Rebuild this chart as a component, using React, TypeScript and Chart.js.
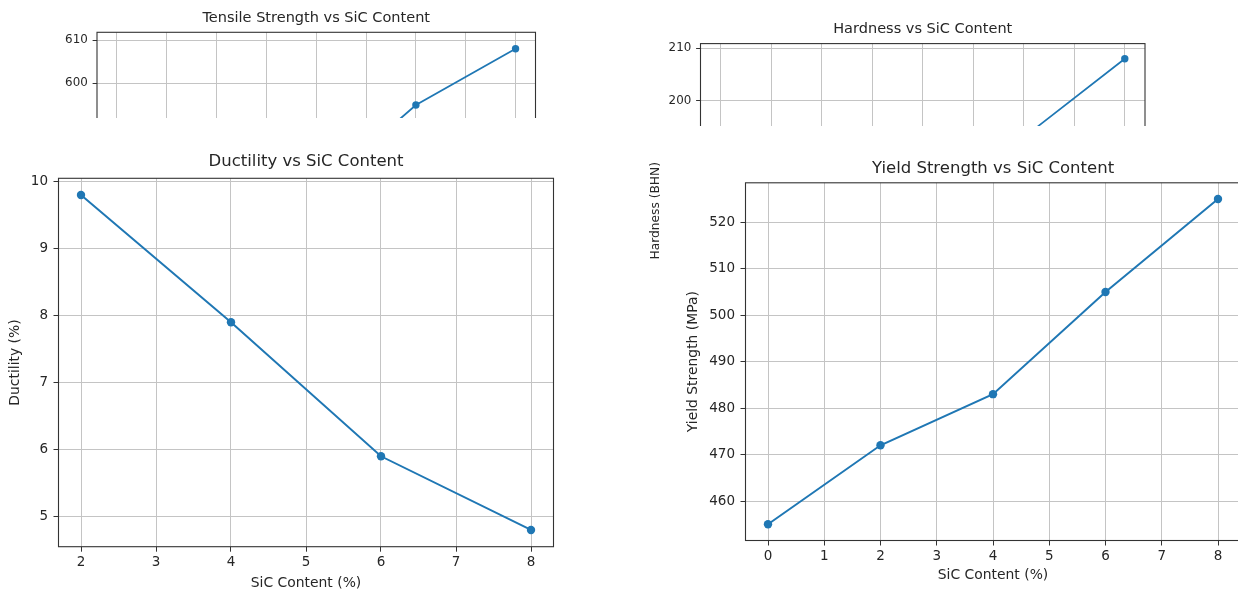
import React, { useEffect, useRef } from "react";
import { Chart, registerables } from "chart.js";

Chart.register(...registerables);

// ---------------- data ----------------
const sicContent = [0, 2, 4, 6, 8];
const tensileStrength = [532, 555, 575, 595, 608];
const hardnessBHN = [150, 165, 180, 193, 208];
const ductilitySic = [2, 4, 6, 8];
const ductilityPct = [9.8, 7.9, 5.9, 4.8];
const yieldStrength = [455, 472, 483, 505, 525];

const xTicksFull = [0, 1, 2, 3, 4, 5, 6, 7, 8];
const xTicksDuctility = [2, 3, 4, 5, 6, 7, 8];
const tensileTicks = [530, 540, 550, 560, 570, 580, 590, 600, 610];
const hardnessTicks = [150, 160, 170, 180, 190, 200, 210];
const ductilityTicks = [5, 6, 7, 8, 9, 10];
const yieldTicks = [460, 470, 480, 490, 500, 510, 520];

// ---------------- style ----------------
const FONT = "'DejaVu Sans', 'Liberation Sans', sans-serif";
const TITLE_SIZE = 16.5;
const LABEL_SIZE = 13.9;
const TICK_SIZE = 13.5;
const TEXT = "#262626";
const C0 = "#1f77b4";
const GRID = "#c4c4c4";
const SPINE = "#333333";

type PanelSpec = {
  left: number;
  top: number;
  height: number;
  k: number; // size factor of the source figure
  plot: { l: number; r: number; t: number; b: number };
  titleY: number;
  xLabelY: number;
  yLabelX: number;
  title: string;
  xLabel: string;
  yLabel: string;
  xs: number[];
  ys: number[];
  xTicks: number[];
  yTicks: number[];
  white: boolean;
};

function padRange(v: number[]): [number, number] {
  const mn = Math.min(...v);
  const mx = Math.max(...v);
  const m = (mx - mn) * 0.05;
  return [mn - m, mx + m];
}

const framePlugin = {
  id: "frame",
  afterDatasetsDraw(chart: any) {
    const { ctx, chartArea } = chart;
    ctx.save();
    ctx.strokeStyle = SPINE;
    ctx.lineWidth = 1.1;
    ctx.strokeRect(
      chartArea.left,
      chartArea.top,
      chartArea.right - chartArea.left,
      chartArea.bottom - chartArea.top
    );
    ctx.restore();
  },
};

const axesTitlePlugin = {
  id: "axesTitle",
  afterDraw(chart: any, _args: any, opts: any) {
    const { ctx, chartArea } = chart;
    ctx.save();
    ctx.fillStyle = TEXT;
    ctx.font = `normal ${opts.size}px ${FONT}`;
    ctx.textAlign = "center";
    ctx.textBaseline = "middle";
    ctx.fillText(opts.text, (chartArea.left + chartArea.right) / 2, opts.y);
    ctx.restore();
  },
};

function buildConfig(p: PanelSpec, W: number) {
  const k = p.k;
  const labelSize = LABEL_SIZE * k;
  const tickSize = TICK_SIZE * k;
  const lhA = labelSize * 1.2;
  const xr = padRange(p.xs);
  const yr = padRange(p.ys);
  const xScaleH = p.xLabelY + lhA / 2 - p.plot.b;
  const gridOpts = {
    color: GRID,
    lineWidth: 1,
    drawTicks: true,
    tickLength: 5 * k,
    tickColor: SPINE,
    tickWidth: 1,
  };
  return {
    type: "line",
    data: {
      datasets: [
        {
          data: p.xs.map((x, i) => ({ x, y: p.ys[i] })),
          borderColor: C0,
          backgroundColor: C0,
          borderWidth: 2 * k,
          pointRadius: 4.2 * k,
          pointHoverRadius: 4.2 * k,
          pointBackgroundColor: C0,
          pointBorderWidth: 0,
          tension: 0,
          fill: false,
          clip: false,
        },
      ],
    },
    options: {
      responsive: false,
      animation: false,
      events: [],
      layout: {
        padding: {
          left: 0,
          top: p.plot.t,
          right: W - p.plot.r,
          bottom: p.height - p.plot.b - xScaleH,
        },
      },
      plugins: {
        legend: { display: false },
        tooltip: { enabled: false },
        title: { display: false },
        axesTitle: { text: p.title, y: p.titleY, size: TITLE_SIZE * k },
      },
      scales: {
        x: {
          type: "linear",
          min: xr[0],
          max: xr[1],
          bounds: "data",
          afterFit: (s: any) => {
            s.height = xScaleH;
          },
          afterBuildTicks: (s: any) => {
            s.ticks = p.xTicks.map((v) => ({ value: v }));
          },
          grid: gridOpts,
          border: { display: false },
          ticks: {
            color: TEXT,
            padding: 3 * k,
            maxRotation: 0,
            autoSkip: false,
            font: { family: FONT, size: tickSize },
          },
          title: {
            display: true,
            text: p.xLabel,
            color: TEXT,
            padding: 0,
            font: { family: FONT, size: labelSize, lineHeight: 1.2 },
          },
        },
        y: {
          type: "linear",
          min: yr[0],
          max: yr[1],
          bounds: "data",
          afterFit: (s: any) => {
            s.width = p.plot.l;
          },
          afterBuildTicks: (s: any) => {
            s.ticks = p.yTicks.map((v) => ({ value: v }));
          },
          grid: gridOpts,
          border: { display: false },
          ticks: {
            color: TEXT,
            padding: 5.5 * k,
            autoSkip: false,
            font: { family: FONT, size: tickSize },
          },
          title: {
            display: true,
            text: p.yLabel,
            color: TEXT,
            padding: { top: p.yLabelX - lhA / 2, bottom: 0 },
            font: { family: FONT, size: labelSize, lineHeight: 1.2 },
          },
        },
      },
    },
    plugins: [framePlugin, axesTitlePlugin],
  };
}

function Panel({ spec }: { spec: PanelSpec }) {
  const ref = useRef<HTMLCanvasElement | null>(null);
  const W = Math.round(spec.plot.l + spec.plot.r);
  useEffect(() => {
    if (!ref.current) return;
    const chart = new Chart(ref.current, buildConfig(spec, W) as any);
    return () => chart.destroy();
  }, []);
  return (
    <div
      style={{
        position: "absolute",
        left: spec.left,
        top: spec.top,
        width: W,
        height: spec.height,
        background: spec.white ? "#ffffff" : "transparent",
      }}
    >
      <canvas
        ref={ref}
        width={W}
        height={spec.height}
        style={{ width: W, height: spec.height, display: "block" }}
      />
    </div>
  );
}

const tensileSpec: PanelSpec = {
  left: 0,
  top: 0,
  height: 440,
  k: 0.88,
  plot: { l: 97, r: 535.5, t: 32.3, b: 394 },
  titleY: 18.3,
  xLabelY: 426,
  yLabelX: 15,
  title: "Tensile Strength vs SiC Content",
  xLabel: "SiC Content (%)",
  yLabel: "Tensile Strength (MPa)",
  xs: sicContent,
  ys: tensileStrength,
  xTicks: xTicksFull,
  yTicks: tensileTicks,
  white: false,
};

const hardnessSpec: PanelSpec = {
  left: 620,
  top: 0,
  height: 430,
  k: 0.88,
  plot: { l: 80.5, r: 525, t: 43.6, b: 377.9 },
  titleY: 29.3,
  xLabelY: 410,
  yLabelX: 35.5,
  title: "Hardness vs SiC Content",
  xLabel: "SiC Content (%)",
  yLabel: "Hardness (BHN)",
  xs: sicContent,
  ys: hardnessBHN,
  xTicks: xTicksFull,
  yTicks: hardnessTicks,
  white: false,
};

const ductilitySpec: PanelSpec = {
  left: 0,
  top: 118,
  height: 478,
  k: 1,
  plot: { l: 58.5, r: 553.5, t: 60.3, b: 428.7 },
  titleY: 44,
  xLabelY: 465.3,
  yLabelX: 15,
  title: "Ductility vs SiC Content",
  xLabel: "SiC Content (%)",
  yLabel: "Ductility (%)",
  xs: ductilitySic,
  ys: ductilityPct,
  xTicks: xTicksDuctility,
  yTicks: ductilityTicks,
  white: true,
};

const yieldSpec: PanelSpec = {
  left: 664,
  top: 126,
  height: 470,
  k: 1,
  plot: { l: 81.5, r: 576.5, t: 56.8, b: 414.5 },
  titleY: 42.3,
  xLabelY: 449,
  yLabelX: 29,
  title: "Yield Strength vs SiC Content",
  xLabel: "SiC Content (%)",
  yLabel: "Yield Strength (MPa)",
  xs: sicContent,
  ys: yieldStrength,
  xTicks: xTicksFull,
  yTicks: yieldTicks,
  white: true,
};

export default function App() {
  return (
    <div
      style={{
        position: "fixed",
        left: 0,
        top: 0,
        width: 1238,
        height: 596,
        overflow: "hidden",
        background: "#ffffff",
      }}
    >
      <Panel spec={tensileSpec} />
      <Panel spec={hardnessSpec} />
      <Panel spec={ductilitySpec} />
      <Panel spec={yieldSpec} />
    </div>
  );
}
